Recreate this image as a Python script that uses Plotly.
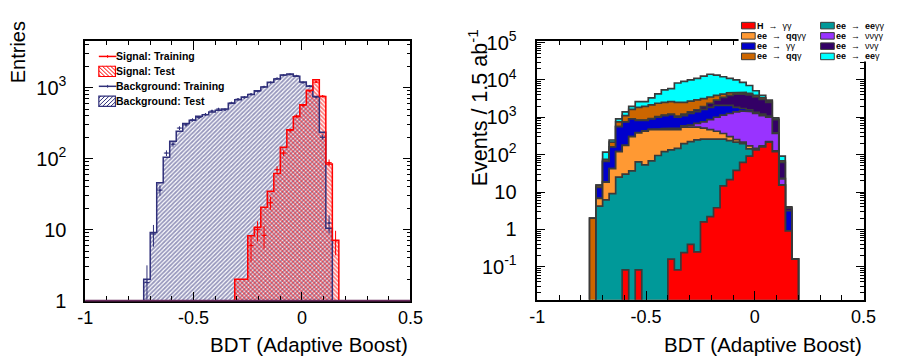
import math
import plotly.graph_objects as go

W, H = 901, 363
FONT = "Liberation Sans, Arial, sans-serif"
BW = 0.03  # bin width of both histograms

# ---------------- Left panel: BDT response, signal/background, training/test ----------------
left_bin_lo = [-0.73, -0.70, -0.67, -0.64, -0.61, -0.58, -0.55, -0.52, -0.49, -0.46,
               -0.43, -0.40, -0.37, -0.34, -0.31, -0.28, -0.25, -0.22, -0.19, -0.16,
               -0.13, -0.10, -0.07, -0.04, -0.01, 0.02, 0.05, 0.08, 0.11, 0.14]
bkg_test = [2.0, 9.1, 46, 105, 176, 243, 313, 347, 395, 415,
            455, 483, 502, 602, 675, 740, 800, 904, 1020, 1190,
            1330, 1510, 1560, 1450, 1200, 1050, 754, 236, 10.5, 0]
bkg_train = [1.8, 8.7, 36, 120, 160, 270, 300, 352, 380, 420,
             470, 500, 490, 610, 690, 730, 810, 890, 1030, 1180,
             1350, 1500, 1540, 1470, 1180, 1060, 740, 200, 12.4, 0]
sig_test = [0, 0, 0, 0, 0, 0, 0, 0, 0, 0,
            0, 0, 0, 0, 2.0, 2.0, 8.2, 10.8, 20.7, 34.9,
            62, 145, 256, 390, 574, 922, 1290, 754, 84, 7.1]
sig_train = [0, 0, 0, 0, 0, 0, 0, 0, 0, 0,
             0, 0, 0, 0, 0, 0, 6, 10, 8.3, 24,
             70, 120, 250, 400, 560, 900, 1200, 760, 88, 7.0]

# ---------------- Right panel: stacked processes, Events / 1.5 ab^-1 ----------------
right_bin_lo = [-0.76, -0.73, -0.70, -0.67, -0.64, -0.61, -0.58, -0.55, -0.52, -0.49,
                -0.46, -0.43, -0.40, -0.37, -0.34, -0.31, -0.28, -0.25, -0.22, -0.19,
                -0.16, -0.13, -0.10, -0.07, -0.04, -0.01, 0.02, 0.05, 0.08, 0.11,
                0.14, 0.17]
h_gg = [0, 0, 0, 0, 0, 0.083, 0, 0.083, 0, 0, 0, 0, 0.16, 0.083, 0.24, 0.40,
        0.25, 1.6, 2.2, 3.8, 14.7, 21.6, 38, 62, 91, 134, 162, 216, 121, 15.3, 0.91, 0.16]
ee_eegg = [0, 4.2, 6.2, 9.1, 25, 30, 37, 64, 53, 68, 95, 121, 134, 147, 196, 224,
           247, 259, 259, 268, 246, 216, 178, 134, 51, 0, 0, 0, 0, 0, 0, 0]
ee_qqgg = [0, 2.6, 12.3, 33, 96, 148, 268, 320, 370, 397, 370, 362, 349, 318, 346, 339,
           295, 251, 204, 151, 108, 67, 36, 20, 29, 13, 9, 8, 5, 0, 0, 0]
ee_nngg = [0, 0, 0, 0, 0, 0, 0, 7, 8, 9, 28, 19, 29, 47, 44, 57,
           141, 239, 395, 579, 777, 957, 1136, 1255, 1244, 1115, 932, 778, 243, 7.1, 0, 0]
ee_gg = [0, 6.6, 47.5, 120, 442, 573, 605, 436, 396, 436, 509, 601, 656, 490, 517, 642,
         732, 868, 991, 1075, 1013, 815, 463, 244, 173, 100, 111, 80, 15, 0.9, 2.26, 0]
ee_nng = [0, 0, 0, 0, 0, 0, 0, 16, 16, 18, 39, 43, 46, 80, 111, 126,
          173, 305, 525, 802, 1262, 1761, 2294, 2510, 2402, 2125, 1777, 1435, 476, 38.7, 0.52, 0]
ee_qqg = [2.0, 1.9, 9, 54, 188, 352, 709, 1008, 1118, 1231, 1335, 1371, 1401, 1435, 1303, 1330,
          1346, 1246, 1111, 959, 724, 637, 505, 425, 400, 351, 301, 201, 33, 6, 0.15, 0]
ee_eeg = [0, 0, 42, 31, 159, 285, 342, 764, 654, 1133, 1849, 2907, 3240, 5753, 6583, 7302,
          8096, 9440, 10663, 9522, 7995, 6555, 5370, 3950, 2700, 1282, 546, 161, 71, 23, 0.16, 0]

# stacking order bottom -> top
stack_series = [h_gg, ee_eegg, ee_qqgg, ee_nngg, ee_gg, ee_nng, ee_qqg, ee_eeg]
stack_colors = ["#ff0000", "#009999", "#ff9933", "#9933ff", "#0000cc", "#330066", "#cc6600", "#00ffff"]
ARW = "&nbsp;&nbsp;→&nbsp;&nbsp;"
stack_labels = [f"<b>H</b>{ARW}γγ", f"<b>ee</b>{ARW}<b>ee</b>γγ",
                f"<b>ee</b>{ARW}<b>qq</b>γγ", f"<b>ee</b>{ARW}ννγγ",
                f"<b>ee</b>{ARW}γγ", f"<b>ee</b>{ARW}ννγ",
                f"<b>ee</b>{ARW}<b>qq</b>γ", f"<b>ee</b>{ARW}<b>ee</b>γ"]

NAVY = "#30307a"
RED = "#ff0000"
OUTLINE = "#3a3a3a"


def step_xy(lo_edges, vals, floor):
    xs, ys = [lo_edges[0]], [floor]
    for lo, v in zip(lo_edges, vals):
        yv = v if v > 0 else floor
        xs += [lo, lo + BW]
        ys += [yv, yv]
    xs.append(lo_edges[-1] + BW)
    ys.append(floor)
    return xs, ys


fig = go.Figure()

# ---- left panel ----
lc = [lo + BW / 2 for lo in left_bin_lo]
fig.add_trace(go.Bar(
    x=lc, y=[v if v > 0 else None for v in bkg_test], width=BW, xaxis="x", yaxis="y",
    marker=dict(color="rgba(0,0,0,0)", line=dict(width=0),
                pattern=dict(shape="/", fgcolor=NAVY, bgcolor="rgba(0,0,0,0)",
                             size=3, solidity=0.6, fillmode="overlay")),
    hoverinfo="skip", showlegend=False))
fig.add_trace(go.Bar(
    x=lc, y=[v if v > 0 else None for v in sig_test], width=BW, xaxis="x", yaxis="y",
    marker=dict(color="rgba(0,0,0,0)", line=dict(width=0),
                pattern=dict(shape="\\", fgcolor=RED, bgcolor="rgba(0,0,0,0)",
                             size=3, solidity=0.6, fillmode="overlay")),
    hoverinfo="skip", showlegend=False))
for vals, col in [(bkg_test, NAVY), (sig_test, RED)]:
    xs, ys = step_xy(left_bin_lo, vals, 1e-3)
    fig.add_trace(go.Scatter(x=xs, y=ys, mode="lines", xaxis="x", yaxis="y",
                             line=dict(color=col, width=1.5), hoverinfo="skip", showlegend=False))
for vals, col in [(bkg_train, NAVY), (sig_train, RED)]:
    xs = [c for c, v in zip(lc, vals) if v > 0]
    ys = [v for v in vals if v > 0]
    errs = [math.sqrt(v) for v in ys]
    fig.add_trace(go.Scatter(
        x=xs, y=ys, mode="markers", xaxis="x", yaxis="y",
        marker=dict(size=2, color=col),
        error_x=dict(type="constant", value=BW / 2 * 0.8, thickness=1, width=0, color=col),
        error_y=dict(type="data", array=errs, thickness=1, width=0, color=col),
        hoverinfo="skip", showlegend=False))

# ---- right panel: cumulative stack, drawn from the top layer down ----
cums = []
run = [0.0] * len(right_bin_lo)
for s in stack_series:
    run = [a + b for a, b in zip(run, s)]
    cums.append(run)
for i in reversed(range(len(stack_series))):
    xs, ys = step_xy(right_bin_lo, cums[i], 1e-3)
    fig.add_trace(go.Scatter(x=xs, y=ys, mode="lines", fill="toself", fillcolor=stack_colors[i],
                             line=dict(color=OUTLINE, width=1.7), xaxis="x2", yaxis="y2",
                             hoverinfo="skip", showlegend=False))

# ---------------- axes ----------------
xtickfont = dict(family=FONT, size=18, color="black")
ytickfont = dict(family=FONT, size=20, color="black")
base_axis = dict(showline=True, linecolor="black", linewidth=1.5, mirror="allticks",
                 ticks="inside", tickcolor="black", tickwidth=1, showgrid=False,
                 zeroline=False)
x_minor = [-0.9, -0.8, -0.7, -0.6, -0.4, -0.3, -0.2, -0.1, 0.1, 0.2, 0.3, 0.4]
xcfg = dict(range=[-1, 0.5], tickmode="array", tickvals=[-1, -0.5, 0, 0.5],
            ticktext=["-1", "-0.5", "0", "0.5"], ticklen=9, tickfont=xtickfont,
            minor=dict(tickmode="array", tickvals=x_minor, ticks="inside", ticklen=4.5,
                       tickcolor="black", tickwidth=1), **base_axis)


def log_minor(e0, e1):
    return [m * 10.0 ** e for e in range(e0, e1) for m in range(2, 10)]


fig.update_layout(
    width=W, height=H, margin=dict(l=0, r=0, t=0, b=0),
    paper_bgcolor="white", plot_bgcolor="white",
    barmode="overlay", bargap=0, showlegend=False,
    xaxis=dict(domain=[79 / W, 412 / W], anchor="y", **xcfg),
    yaxis=dict(domain=[1 - 308 / H, 1 - 30 / H], anchor="x", type="log", range=[0, 3.658],
               tickmode="array", tickvals=[1, 10, 100, 1000],
               ticktext=["1", "10", "10<sup>2</sup>", "10<sup>3</sup>"], ticklen=8,
               ticklabelstandoff=13, tickfont=ytickfont,
               minor=dict(tickmode="array", tickvals=log_minor(0, 4), ticks="inside",
                          ticklen=4, tickcolor="black", tickwidth=1), **base_axis),
    xaxis2=dict(domain=[542 / W, 876 / W], anchor="y2", **xcfg),
    yaxis2=dict(domain=[1 - 307 / H, 1 - 30 / H], anchor="x2", type="log", range=[-1.88, 5.04],
                tickmode="array", tickvals=[0.1, 1, 10, 100, 1e3, 1e4, 1e5],
                ticktext=["10<sup>-1</sup>", "1", "10", "10<sup>2</sup>", "10<sup>3</sup>",
                          "10<sup>4</sup>", "10<sup>5</sup>"], ticklen=8,
                ticklabelstandoff=15, tickfont=ytickfont,
                minor=dict(tickmode="array", tickvals=log_minor(-2, 5), ticks="inside",
                           ticklen=4, tickcolor="black", tickwidth=1), **base_axis),
)


def px(x):
    return x / W


def py(y):
    return 1 - y / H


shapes = []
annotations = []


def hatch(x0, y0, x1, y1, step, direction, color):
    parts = []
    if direction == "/":
        c = x0 + y0 + step / 2
        while c < x1 + y1:
            xs = max(x0, c - y1)
            xe = min(x1, c - y0)
            if xe > xs:
                parts.append(f"M{px(xs):.5f},{py(c - xs):.5f} L{px(xe):.5f},{py(c - xe):.5f}")
            c += step
    else:
        c = x0 - y1 + step / 2
        while c < x1 - y0:
            xs = max(x0, c + y0)
            xe = min(x1, c + y1)
            if xe > xs:
                parts.append(f"M{px(xs):.5f},{py(xs - c):.5f} L{px(xe):.5f},{py(xe - c):.5f}")
            c += step
    shapes.append(dict(type="path", xref="paper", yref="paper", path=" ".join(parts),
                       line=dict(color=color, width=1)))
    shapes.append(dict(type="rect", xref="paper", yref="paper", x0=px(x0), x1=px(x1),
                       y0=py(y1), y1=py(y0), line=dict(color=color, width=1.2)))


# bottom edge of left frame carries the (empty-bin) histogram outlines
shapes.append(dict(type="line", xref="paper", yref="paper", x0=px(79), x1=px(412),
                   y0=py(308), y1=py(308), line=dict(color="#6a2a5e", width=1.6), layer="above"))

# left legend
leg_font = dict(family=FONT, size=10.5, color="black")
rows = [(46.5, "line", RED, "Signal: Training"),
        (62.5, "box", RED, "Signal: Test"),
        (78.5, "line", NAVY, "Background: Training"),
        (94.5, "box", NAVY, "Background: Test")]
for yc, kind, col, txt in rows:
    if kind == "line":
        shapes.append(dict(type="line", xref="paper", yref="paper", x0=px(93), x1=px(111),
                           y0=py(yc), y1=py(yc), line=dict(color=col, width=1.5)))
        shapes.append(dict(type="line", xref="paper", yref="paper", x0=px(102), x1=px(102),
                           y0=py(yc - 1.5), y1=py(yc + 1.5), line=dict(color=col, width=1)))
    else:
        hatch(93, yc - 5.5, 110, yc + 5.5, 4.2, "\\" if col == RED else "/", col)
    annotations.append(dict(xref="paper", yref="paper", x=px(110), y=py(yc), text=f"<b>{txt}</b>",
                            showarrow=False, xanchor="left", yanchor="middle", font=leg_font,
                            borderpad=0))

# right legend (white box covering the frame corner)
shapes.append(dict(type="rect", xref="paper", yref="paper", x0=px(748), x1=1, y0=py(52), y1=1,
                   fillcolor="white", line=dict(width=0), layer="above"))
col_x = [751, 832]
row_y = [13.5, 24.5, 35.5, 46.5]
leg_pos = {0: (0, 0), 2: (0, 1), 4: (0, 2), 6: (0, 3), 1: (1, 0), 3: (1, 1), 5: (1, 2), 7: (1, 3)}
rfont = dict(family=FONT, size=9, color="black")
for idx, (c, r) in leg_pos.items():
    bx = col_x[c]
    by = row_y[r]
    shapes.append(dict(type="rect", xref="paper", yref="paper", x0=px(bx), x1=px(bx + 14),
                       y0=py(by + 3.5), y1=py(by - 3.5), fillcolor=stack_colors[idx],
                       line=dict(color=OUTLINE, width=1), layer="above"))
    annotations.append(dict(xref="paper", yref="paper", x=px(bx + 15), y=py(by),
                            text=stack_labels[idx], showarrow=False, xanchor="left",
                            yanchor="middle", font=rfont, borderpad=0))

# axis titles
title_font = dict(family=FONT, size=20.5, color="black")
annotations.append(dict(xref="paper", yref="paper", x=px(412), y=py(355), text="BDT (Adaptive Boost)",
                        showarrow=False, xanchor="right", yanchor="middle", font=title_font))
annotations.append(dict(xref="paper", yref="paper", x=px(876), y=py(355), text="BDT (Adaptive Boost)",
                        showarrow=False, xanchor="right", yanchor="middle", font=title_font))
annotations.append(dict(xref="paper", yref="paper", x=px(10), y=py(7), text="Entries",
                        textangle=-90, showarrow=False, xanchor="center", yanchor="top",
                        font=dict(family=FONT, size=20, color="black")))
annotations.append(dict(xref="paper", yref="paper", x=px(481), y=py(15),
                        text="Events / 1.5 ab<sup>-1</sup>",
                        textangle=-90, showarrow=False, xanchor="center", yanchor="top",
                        font=dict(family=FONT, size=21.5, color="black")))

fig.update_layout(shapes=shapes, annotations=annotations)
fig.write_html("out.html")
